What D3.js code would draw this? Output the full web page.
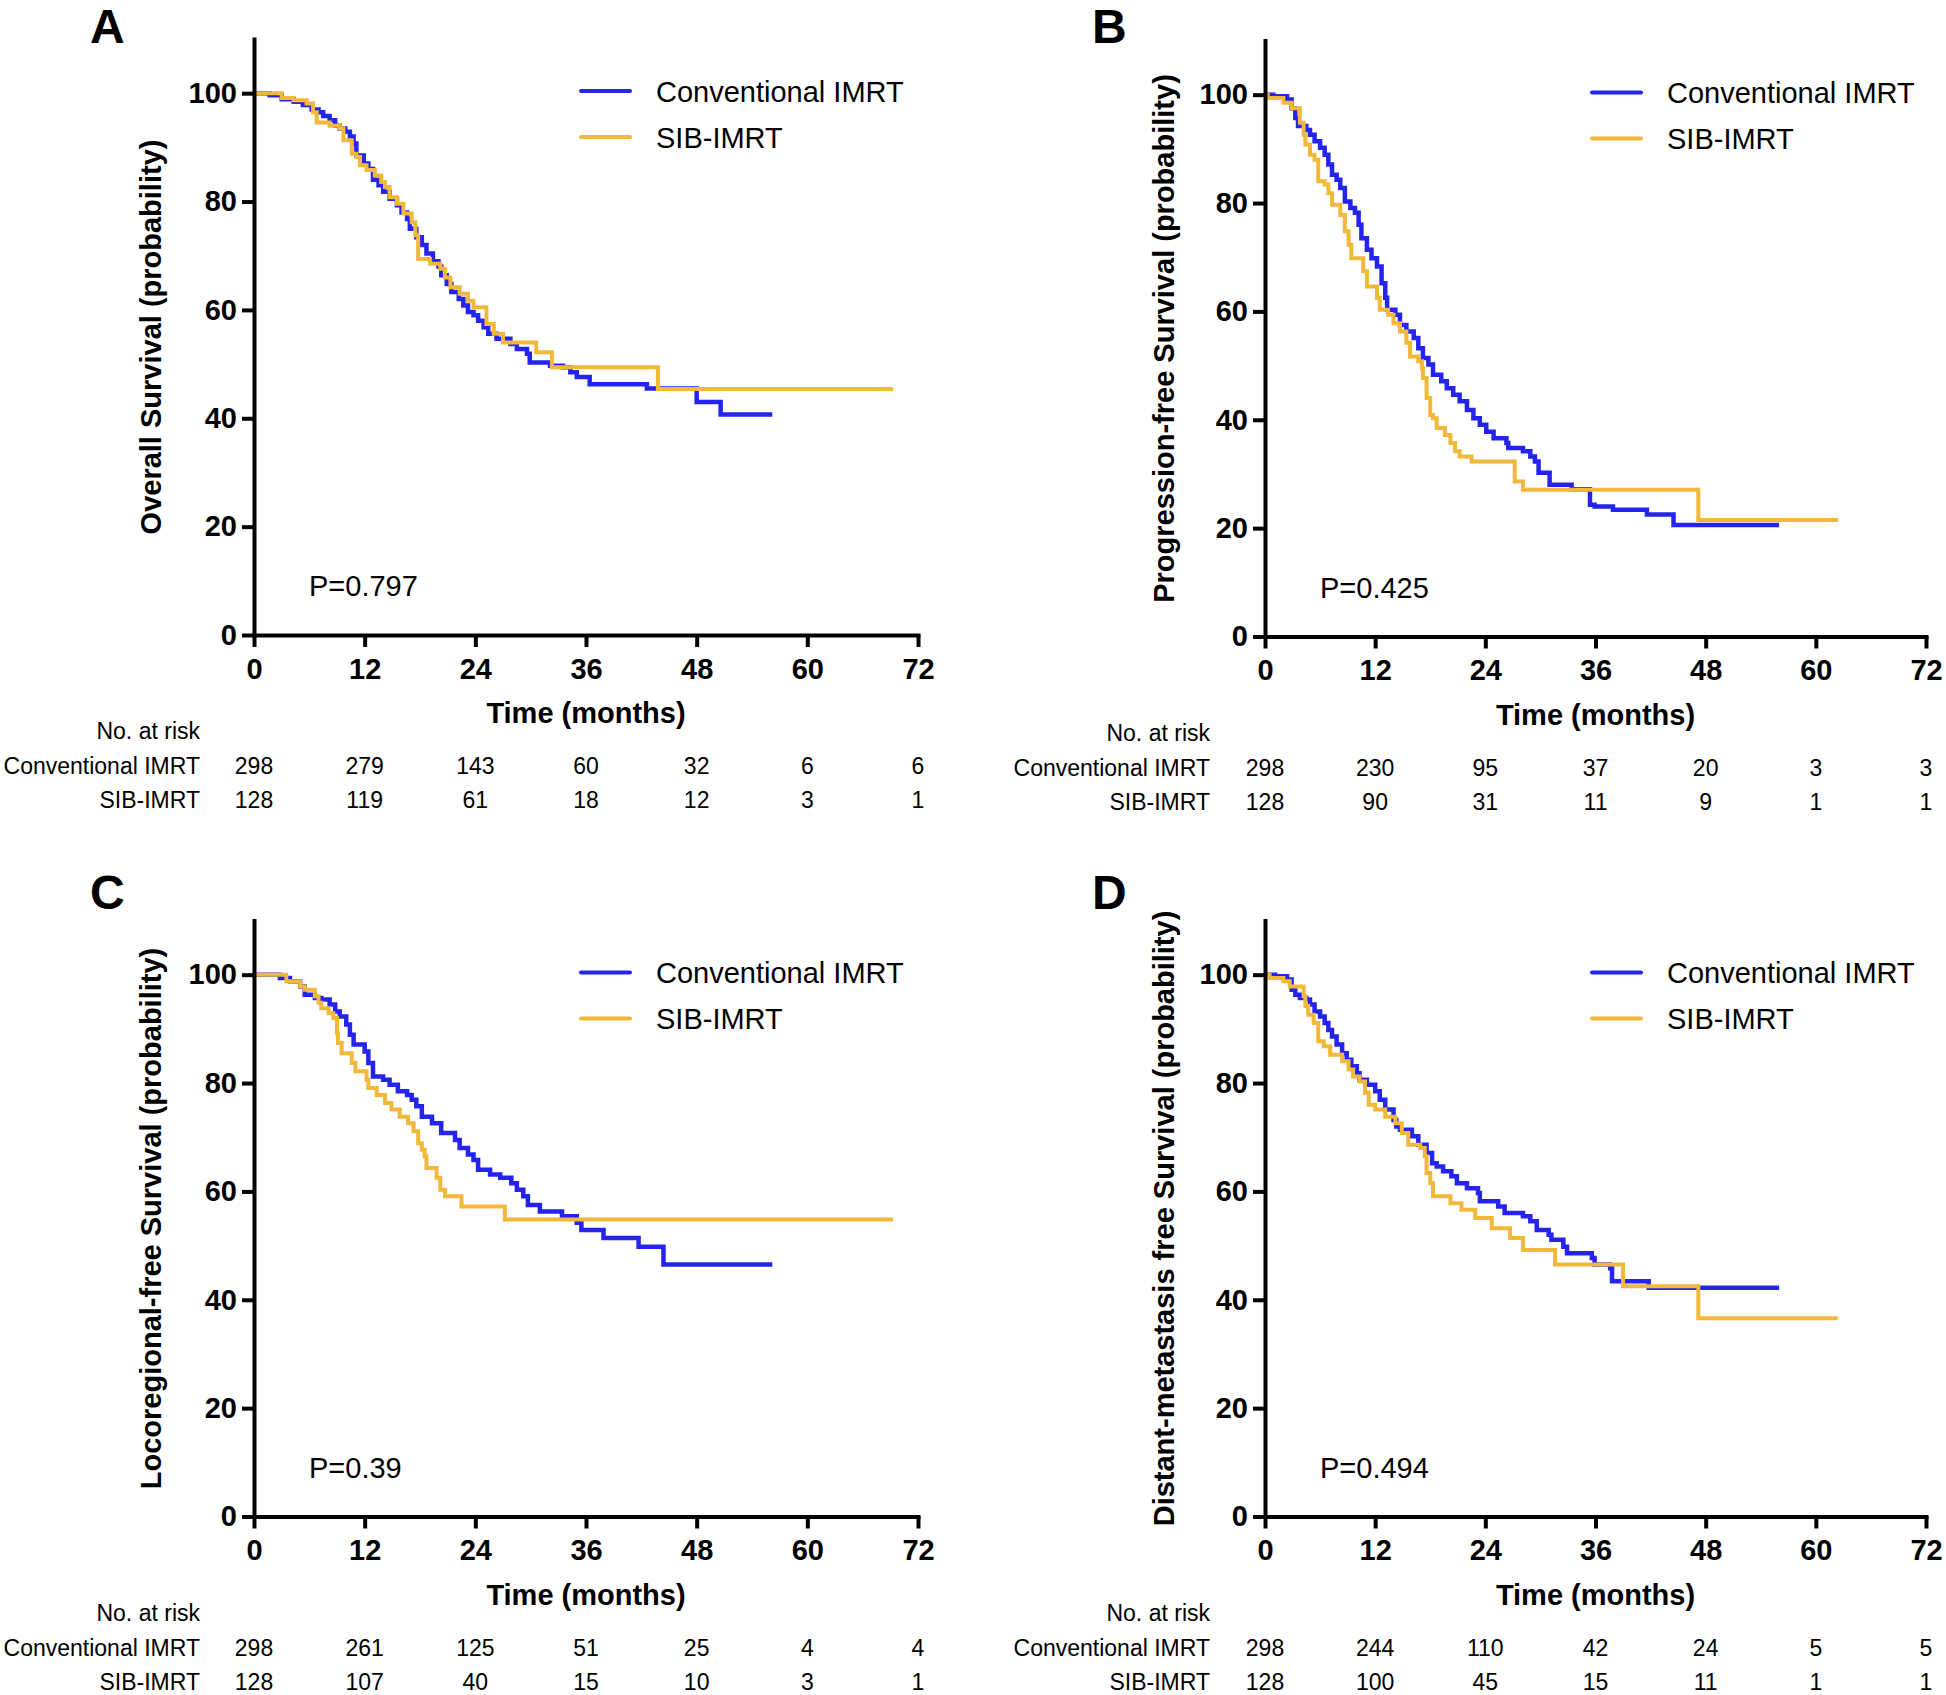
<!DOCTYPE html>
<html>
<head>
<meta charset="utf-8">
<script src="https://cdn.jsdelivr.net/npm/d3@7"></script>
<style>
  html, body { margin: 0; padding: 0; background: #fff; }
  svg { display: block; }
  text { font-family: "Liberation Sans", Arial, Helvetica, sans-serif; fill: #000; }
</style>
</head>
<body>
<svg id="chart" width="1946" height="1695"></svg>
<script>
// ---------------- DATA ----------------
const xTicks = [0, 12, 24, 36, 48, 60, 72];
const yTicks = [0, 20, 40, 60, 80, 100];
const seriesNames = ["Conventional IMRT", "SIB-IMRT"];
const panelLetters = ["A", "B", "C", "D"];
const yTitles = [
  "Overall Survival (probability)",
  "Progression-free Survival (probability)",
  "Locoregional-free Survival (probability)",
  "Distant-metastasis free Survival (probability)"
];
const pValues = ["P=0.797", "P=0.425", "P=0.39", "P=0.494"];

// Kaplan-Meier steps: [time (months), survival (%)]
const osConv = [[0,100],[1.7,99.6],[3.0,98.9],[4.3,98.4],[5.3,97.8],[6.25,97.0],[7.0,96.5],[7.5,95.8],[8.2,95.0],[8.8,94.0],[9.3,93.5],[9.9,92.9],[10.4,92.0],[10.8,90.7],[11.1,88.5],[11.9,87.0],[12.4,86.0],[12.9,84.0],[13.5,83.0],[14.0,81.8],[14.7,80.5],[15.5,79.3],[16.0,78.0],[16.6,76.8],[16.9,75.0],[17.6,73.4],[18.2,72.0],[18.7,70.4],[19.4,69.0],[20.0,68.0],[20.3,66.4],[20.9,64.8],[21.4,63.3],[22.2,62.0],[22.7,60.8],[23.2,59.6],[23.8,59.0],[24.3,58.0],[24.9,56.8],[25.4,55.6],[26.3,54.7],[27.8,53.7],[28.5,52.8],[29.6,51.9],[29.9,50.3],[32.1,49.7],[33.5,49.4],[34.3,48.5],[35.0,47.6],[36.4,46.3],[42.6,45.5],[48.0,43.0],[50.6,40.7],[56.2,40.7]];
const osSib = [[0,100],[3.0,99.1],[4.3,98.7],[5.7,98.1],[6.4,96.5],[6.8,94.6],[8.2,94.0],[9.3,93.5],[9.7,91.3],[10.6,88.8],[11.1,88.2],[11.5,86.7],[12.2,85.8],[13.1,84.8],[13.8,83.6],[14.2,82.7],[14.7,80.8],[15.5,79.6],[16.2,77.8],[17.1,76.2],[17.5,73.8],[17.8,69.4],[19.1,68.5],[20.2,67.6],[20.7,66.0],[21.3,64.2],[22.3,63.0],[23.2,61.7],[23.8,60.5],[25.2,57.4],[26.0,55.6],[27.0,54.0],[30.6,52.2],[32.3,49.4],[43.8,45.4],[69.3,45.4]];

const pfsConv = [[0,100],[0.9,99.7],[2.4,99.1],[2.9,97.5],[3.3,95.7],[3.6,94.2],[4.5,93.5],[4.9,92.6],[5.4,91.4],[6.0,90.2],[6.5,88.9],[6.9,87.1],[7.3,85.2],[7.8,84.3],[8.2,82.8],[8.7,80.3],[9.3,79.1],[9.8,78.2],[10.2,76.0],[10.5,73.5],[11.1,71.4],[11.6,69.8],[12.2,68.3],[12.7,65.2],[13.1,62.5],[13.3,60.3],[14.2,59.4],[14.7,57.5],[15.4,56.3],[16.2,55.1],[16.7,53.2],[17.2,51.4],[17.8,50.2],[18.3,48.3],[19.2,47.1],[19.8,45.8],[20.5,44.6],[21.2,43.4],[22.0,41.8],[22.7,40.3],[23.4,39.1],[24.1,37.8],[24.9,36.6],[26.3,35.7],[26.5,34.8],[28.1,34.2],[28.9,33.2],[29.4,32.3],[29.8,30.2],[31.0,28.0],[33.4,27.2],[35.4,24.3],[35.9,24.0],[37.9,23.4],[41.6,22.5],[44.5,20.6],[56.0,20.6]];
const pfsSib = [[0,100],[0.3,99.4],[2.0,98.5],[2.9,97.5],[3.8,94.8],[4.2,92.6],[4.4,90.8],[4.9,88.9],[5.4,88.0],[5.8,84.0],[6.5,83.4],[6.9,81.8],[7.3,79.7],[8.2,77.8],[8.7,74.8],[9.1,72.3],[9.4,69.8],[10.7,67.4],[11.1,64.6],[12.2,62.5],[12.5,60.3],[13.4,59.4],[14.0,57.8],[14.7,56.3],[15.4,54.2],[15.8,51.7],[16.7,50.8],[17.1,49.5],[17.2,47.7],[17.6,44.0],[18.0,40.9],[18.3,40.3],[18.7,38.5],[19.6,37.2],[20.2,35.7],[20.7,34.2],[21.2,33.2],[22.5,32.3],[27.2,28.6],[28.1,27.1],[47.2,21.5],[62.4,21.5]];

const lrfsConv = [[0,100],[2.8,99.4],[3.9,98.8],[5.0,97.8],[5.5,96.3],[6.6,95.7],[7.3,95.4],[8.2,94.5],[8.8,93.2],[9.3,92.3],[10.0,90.8],[10.4,88.9],[10.8,87.1],[12.0,85.8],[12.4,83.7],[12.9,81.2],[14.0,80.6],[14.7,79.7],[15.6,78.5],[16.6,77.8],[17.1,76.9],[17.6,75.7],[18.2,73.8],[19.3,72.6],[20.3,70.8],[21.8,69.5],[22.3,68.0],[23.2,66.8],[23.8,65.8],[24.3,64.0],[25.6,63.1],[26.7,62.5],[27.9,61.5],[28.5,60.3],[29.2,59.1],[29.7,57.5],[31.0,56.3],[33.4,55.4],[35.0,54.2],[35.5,52.9],[37.9,51.4],[41.7,49.8],[44.4,46.5],[56.2,46.5]];
const lrfsSib = [[0,100],[3.5,98.8],[5.0,97.8],[5.5,97.2],[6.6,96.0],[7.0,94.8],[7.3,93.8],[8.1,92.9],[8.6,92.0],[9.0,89.2],[9.1,87.4],[9.5,85.5],[10.6,83.7],[11.0,82.2],[12.2,80.6],[12.4,79.1],[13.3,77.8],[14.2,76.3],[14.9,75.1],[15.8,73.8],[16.7,72.6],[17.3,71.1],[17.8,68.9],[18.2,67.7],[18.5,66.5],[18.7,64.3],[19.8,62.5],[20.2,60.3],[20.7,59.1],[22.5,57.2],[27.2,54.8],[69.3,54.8]];

const dmfsConv = [[0,100],[1.1,99.7],[2.4,99.1],[2.9,97.2],[3.3,96.3],[3.8,95.7],[4.5,95.4],[4.9,94.5],[5.4,93.2],[6.0,92.3],[6.5,91.1],[6.9,89.8],[7.3,88.6],[7.8,87.1],[8.4,85.5],[8.9,84.3],[9.4,83.1],[10.0,81.8],[10.3,80.6],[11.1,79.7],[12.0,78.5],[12.5,76.9],[13.1,75.1],[14.0,73.2],[14.3,72.0],[14.7,71.4],[16.0,70.2],[16.7,68.6],[17.6,67.1],[18.2,65.2],[18.7,64.6],[19.4,63.7],[20.3,62.8],[20.9,61.5],[22.0,60.6],[23.2,59.7],[23.4,58.2],[25.4,57.2],[26.1,56.0],[28.1,55.4],[28.9,54.5],[29.6,52.9],[30.9,52.0],[31.2,51.1],[32.5,49.8],[32.9,48.6],[35.6,47.7],[35.9,46.5],[37.6,45.8],[37.8,43.4],[41.8,42.2],[56.0,42.2]];
const dmfsSib = [[0,100],[0.5,99.4],[2.0,98.8],[2.7,97.8],[4.2,96.0],[4.4,94.2],[4.7,92.6],[5.3,91.1],[5.8,87.7],[6.4,86.8],[7.1,85.2],[8.4,84.0],[9.1,82.5],[9.6,81.2],[10.3,80.3],[10.9,78.2],[11.3,76.0],[12.0,75.1],[13.1,73.8],[14.2,72.6],[14.9,70.8],[15.6,68.6],[16.9,68.0],[17.4,66.5],[17.6,63.4],[18.0,61.5],[18.3,59.1],[20.2,57.8],[21.4,56.6],[22.9,55.1],[24.7,53.2],[26.7,51.4],[28.1,49.2],[31.6,46.5],[39.0,42.5],[47.2,36.6],[62.4,36.6]];

// Numbers at risk at 0,12,...,72 months
const riskOsConv = [298, 279, 143, 60, 32, 6, 6];
const riskOsSib = [128, 119, 61, 18, 12, 3, 1];
const riskPfsConv = [298, 230, 95, 37, 20, 3, 3];
const riskPfsSib = [128, 90, 31, 11, 9, 1, 1];
const riskLrfsConv = [298, 261, 125, 51, 25, 4, 4];
const riskLrfsSib = [128, 107, 40, 15, 10, 3, 1];
const riskDmfsConv = [298, 244, 110, 42, 24, 5, 5];
const riskDmfsSib = [128, 100, 45, 15, 11, 1, 1];

// ---------------- LAYOUT ----------------
const colors = ["#2424EE", "#F1B83A"];
const widths = [4.5, 4];
const FONT = '"Liberation Sans", Arial, Helvetica, sans-serif';

const panels = [
  { letter: panelLetters[0], title: yTitles[0], p: pValues[0], series: [osConv, osSib], risk: [riskOsConv, riskOsSib],
    x0: 254, x1: 918, yB: 635, yT: 39, letterX: 90, letterY: 43, titleX: 151, riskX: 200 },
  { letter: panelLetters[1], title: yTitles[1], p: pValues[1], series: [pfsConv, pfsSib], risk: [riskPfsConv, riskPfsSib],
    x0: 1265, x1: 1926, yB: 636.5, yT: 40.5, letterX: 1092, letterY: 43, titleX: 1164, riskX: 1210 },
  { letter: panelLetters[2], title: yTitles[2], p: pValues[2], series: [lrfsConv, lrfsSib], risk: [riskLrfsConv, riskLrfsSib],
    x0: 254, x1: 918, yB: 1516.5, yT: 920.5, letterX: 90, letterY: 909, titleX: 151, riskX: 200 },
  { letter: panelLetters[3], title: yTitles[3], p: pValues[3], series: [dmfsConv, dmfsSib], risk: [riskDmfsConv, riskDmfsSib],
    x0: 1265, x1: 1926, yB: 1516.5, yT: 920.5, letterX: 1092, letterY: 909, titleX: 1164, riskX: 1210 }
];

const svg = d3.select("#chart");

panels.forEach(pn => {
  const g = svg.append("g");
  const x = d3.scaleLinear().domain([0, 72]).range([pn.x0, pn.x1]);
  const y = d3.scaleLinear().domain([0, 110]).range([pn.yB, pn.yT]);

  // panel letter
  g.append("text").attr("x", pn.letterX).attr("y", pn.letterY)
    .attr("font-size", 48).attr("font-weight", "bold").text(pn.letter);

  // curves
  const line = d3.line().x(d => x(d[0])).y(d => y(d[1])).curve(d3.curveStepAfter);
  pn.series.forEach((s, i) => {
    g.append("path").datum(s).attr("d", line)
      .attr("fill", "none").attr("stroke", colors[i])
      .attr("stroke-width", widths[i]).attr("stroke-linejoin", "miter");
  });

  // axes
  const xAxis = d3.axisBottom(x).tickValues(xTicks).tickSize(12).tickSizeOuter(0).tickPadding(11);
  const yAxis = d3.axisLeft(y).tickValues(yTicks).tickSize(12).tickSizeOuter(0).tickPadding(5);
  const gx = g.append("g").attr("transform", `translate(0,${pn.yB})`).call(xAxis);
  const gy = g.append("g").attr("transform", `translate(${pn.x0},0)`).call(yAxis);
  [gx, gy].forEach(a => {
    a.select(".domain").attr("stroke", "#000").attr("stroke-width", 4).attr("stroke-linecap", "square");
    a.selectAll(".tick line").attr("stroke", "#000").attr("stroke-width", 4);
    a.selectAll(".tick text").attr("font-family", FONT).attr("font-size", 29)
      .attr("font-weight", "bold").attr("fill", "#000");
  });

  // axis titles
  g.append("text").attr("x", (pn.x0 + pn.x1) / 2).attr("y", pn.yB + 88)
    .attr("text-anchor", "middle").attr("font-size", 29).attr("font-weight", "bold")
    .text("Time (months)");
  g.append("text")
    .attr("transform", `translate(${pn.titleX},${(pn.yB + pn.yT) / 2}) rotate(-90)`)
    .attr("dy", "0.35em").attr("text-anchor", "middle")
    .attr("font-size", 29).attr("font-weight", "bold").text(pn.title);

  // legend
  seriesNames.forEach((nm, i) => {
    const ly = pn.yT + 52 + i * 46;
    g.append("line").attr("x1", pn.x0 + 327).attr("x2", pn.x0 + 376)
      .attr("y1", ly).attr("y2", ly).attr("stroke", colors[i])
      .attr("stroke-width", 4).attr("stroke-linecap", "round");
    g.append("text").attr("x", pn.x0 + 402).attr("y", ly + 10.5)
      .attr("font-size", 29).text(nm);
  });

  // p value
  g.append("text").attr("x", pn.x0 + 55).attr("y", pn.yB - 39)
    .attr("font-size", 29).text(pn.p);

  // number at risk table
  const rows = [pn.yB + 104, pn.yB + 139, pn.yB + 173];
  g.append("text").attr("x", pn.riskX).attr("y", rows[0]).attr("text-anchor", "end")
    .attr("font-size", 23).text("No. at risk");
  pn.risk.forEach((vals, i) => {
    g.append("text").attr("x", pn.riskX).attr("y", rows[i + 1]).attr("text-anchor", "end")
      .attr("font-size", 23).text(seriesNames[i]);
    g.selectAll(null).data(vals).enter().append("text")
      .attr("x", (d, j) => x(xTicks[j])).attr("y", rows[i + 1])
      .attr("text-anchor", "middle").attr("font-size", 23).text(d => d);
  });
});
</script>
</body>
</html>
